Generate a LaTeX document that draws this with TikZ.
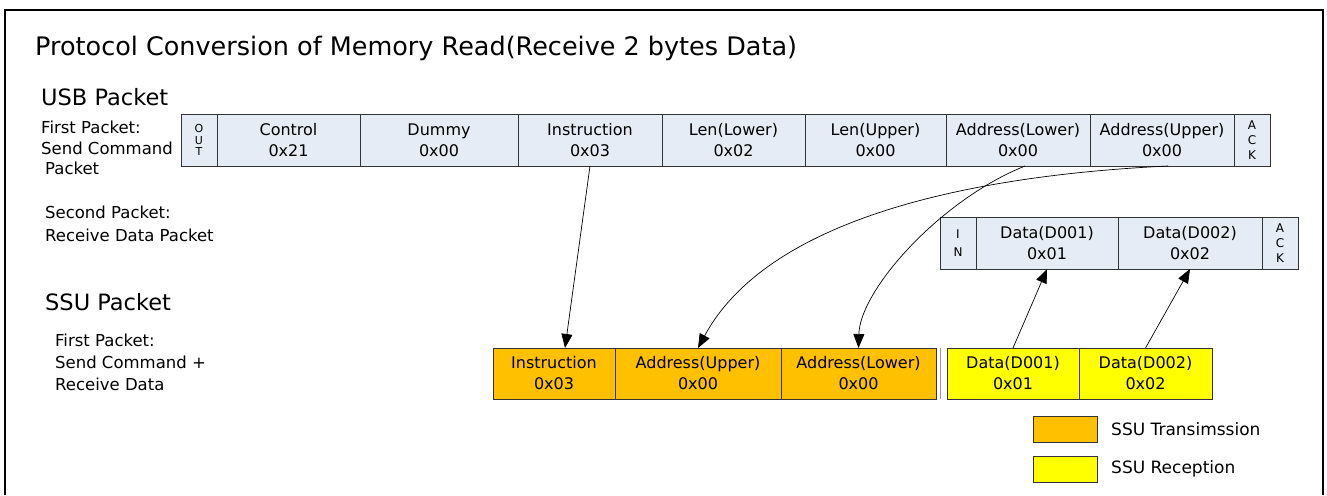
\documentclass[tikz,border=0pt]{standalone}
\usepackage{fontspec}
\setmainfont{DejaVu Sans}
\usetikzlibrary{arrows.meta, positioning}

\definecolor{usbfill}{HTML}{E6ECF6}
\definecolor{txfill}{HTML}{FFC000}
\definecolor{rxfill}{HTML}{FFFF00}

\begin{document}
\begin{tikzpicture}[
      x=1pt, y=-1pt,
      cell/.style={rectangle, draw=black!80, line width=0.9pt, outer sep=0pt, inner sep=0pt, minimum height=52pt, align=center, font=\fontsize{16}{21}\selectfont},
      usb/.style={cell, fill=usbfill},
      tx/.style={cell, fill=txfill, minimum height=51pt},
      rx/.style={cell, fill=rxfill, minimum height=51pt},
      tag/.style={usb, minimum width=36pt},
      lbl/.style={anchor=west, inner sep=0pt, align=left, font=\fontsize{16.5}{20.5}\selectfont},
      arrow/.style={-{Triangle[length=14pt, width=11pt]}, line width=0.7pt}
    ]
    \useasboundingbox (0,0) rectangle (1327,495);

    % Frame
    \draw[line width=2pt] (5,495) -- (5,10) -- (1323,10) -- (1323,495);

    % Titles
    \node[lbl, font=\fontsize{25.5}{30}\selectfont] (title) at (35,48) {Protocol Conversion of Memory Read(Receive 2 bytes Data)};
    \node[lbl, font=\fontsize{22.5}{26}\selectfont] (usbhead) at (41,97) {USB Packet};
    \node[lbl] (usbfirst) at (41,148) {First Packet:\\Send Command\\\hspace{4pt}Packet};
    \node[lbl, font=\fontsize{16.5}{23}\selectfont] (usbsecond) at (45,224) {Second Packet:\\Receive Data Packet};
    \node[lbl, font=\fontsize{22.5}{26}\selectfont] (ssuhead) at (45,302) {SSU Packet};
    \node[lbl, font=\fontsize{16.5}{22}\selectfont] (ssufirst) at (55,362) {First Packet:\\Send Command +\\Receive Data};

    % USB first packet
    \node[tag, font=\fontsize{11}{11.5}\selectfont] (out) at (199,140) {O\\U\\T};
    \node[usb, minimum width=143pt, right=0pt of out] (ctl) {Control\\0x21};
    \node[usb, minimum width=158pt, right=0pt of ctl] (dummy) {Dummy\\0x00};
    \node[usb, minimum width=144pt, right=0pt of dummy] (uinstr) {Instruction\\0x03};
    \node[usb, minimum width=143pt, right=0pt of uinstr] (ulenlo) {Len(Lower)\\0x02};
    \node[usb, minimum width=141pt, right=0pt of ulenlo] (ulenhi) {Len(Upper)\\0x00};
    \node[usb, minimum width=144pt, right=0pt of ulenhi] (uaddrlo) {Address(Lower)\\0x00};
    \node[usb, minimum width=144pt, right=0pt of uaddrlo] (uaddrhi) {Address(Upper)\\0x00};
    \node[tag, font=\fontsize{12}{15}\selectfont, right=0pt of uaddrhi] (ack1) {A\\C\\K};

    % USB second packet
    \node[tag, font=\fontsize{12}{18}\selectfont] (in) at (958,243) {I\\N};
    \node[usb, minimum width=142pt, right=0pt of in] (id1) {Data(D001)\\0x01};
    \node[usb, minimum width=144pt, right=0pt of id1] (id2) {Data(D002)\\0x02};
    \node[tag, font=\fontsize{12}{15}\selectfont, right=0pt of id2] (ack2) {A\\C\\K};

    % SSU packet
    \node[tx, minimum width=122pt] (sinstr) at (554,373.5) {Instruction\\0x03};
    \node[tx, minimum width=166pt, right=0pt of sinstr] (saddrhi) {Address(Upper)\\0x00};
    \node[tx, minimum width=155pt, right=0pt of saddrhi] (saddrlo) {Address(Lower)\\0x00};
    \draw[black!40, line width=0.8pt] ([xshift=4pt]saddrlo.north east) -- ([xshift=4pt]saddrlo.south east);
    \node[rx, minimum width=132pt, right=11pt of saddrlo] (sd1) {Data(D001)\\0x01};
    \node[rx, minimum width=133pt, right=0pt of sd1] (sd2) {Data(D002)\\0x02};

    % Arrows
    \draw[arrow] (uinstr.south) -- ([xshift=11pt]sinstr.north);
    \draw[arrow] ([xshift=6pt]uaddrhi.south) .. controls (980,175) and (770,215) .. (saddrhi.north);
    \draw[arrow] ([xshift=7pt]uaddrlo.south) .. controls (940,200) and (860,290) .. (saddrlo.north);
    \draw[arrow] (sd1.north) -- (id1.south);
    \draw[arrow] (sd2.north) -- (id2.south);

    % Legend
    \node[tx, minimum width=64pt, minimum height=26pt] (keytx) at (1065,429) {};
    \node[lbl, font=\fontsize{17}{20}\selectfont, right=14pt of keytx] (keytxt) {SSU Transimssion};
    \node[rx, minimum width=64pt, minimum height=26pt] (keyrx) at (1065,469) {};
    \node[lbl, font=\fontsize{17}{20}\selectfont, right=14pt of keyrx] (keyrxt) {SSU Reception};

  \end{tikzpicture}
\end{document}
